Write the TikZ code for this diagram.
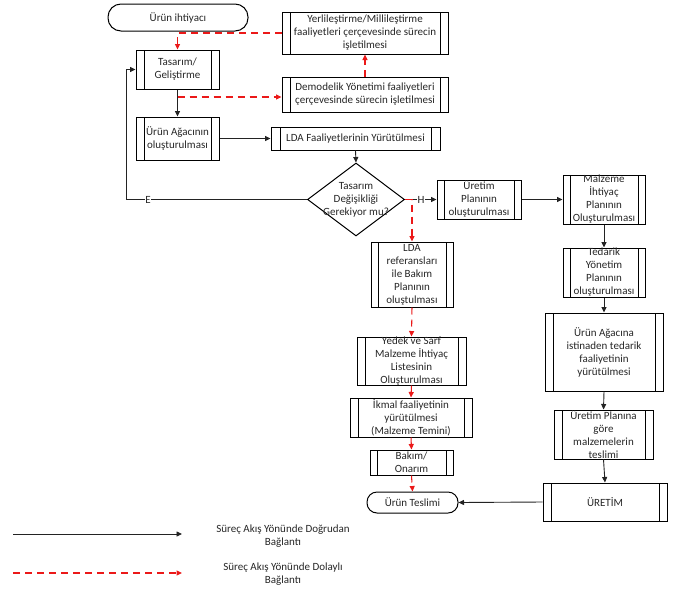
\documentclass[tikz,border=0pt]{standalone}
\usepackage{fontspec}
\setmainfont{Carlito}
\usetikzlibrary{arrows.meta,shapes.geometric}
\definecolor{lnred}{RGB}{235,25,25}
\definecolor{lngray}{RGB}{35,35,35}
\begin{document}
\begin{tikzpicture}[x=1pt,y=-1pt,
  every node/.style={font=\fontsize{11}{13}\selectfont, text=black!85},
  proc/.style={draw, line width=1pt, inner sep=0pt,
    path picture={\draw[line width=1pt]
      ([xshift=#1]path picture bounding box.north west) -- ([xshift=#1]path picture bounding box.south west)
      ([xshift=-#1]path picture bounding box.north east) -- ([xshift=-#1]path picture bounding box.south east);}},
  proc/.default=8pt,
  term/.style={draw, line width=1pt, inner sep=0pt, rounded corners=#1},
  txt/.style={align=center, inner sep=0pt},
  arr/.style={draw=lngray, line width=0.9pt, -{Triangle[length=5.5pt,width=5pt]}},
  redarr/.style={draw=lnred, line width=1.05pt, dash pattern=on 7pt off 5pt, -{Triangle[length=5.5pt,width=5pt]}},
  lbl/.style={fill=white, inner sep=0.6pt}
]
\useasboundingbox (0,0) rectangle (679,600);

% boxes
\node[term=13pt, minimum width=140pt, minimum height=27pt] (start) at (178,17.5) {};
\node[txt] (start-t) at (start.center) {Ürün ihtiyacı};

\node[proc, minimum width=83pt, minimum height=39pt] (tas) at (177.5,69.5) {};
\node[txt] (tas-t) at (tas.center) {Tasarım/\\Geliştirme};

\node[proc, minimum width=166pt, minimum height=42pt] (yer) at (365,33) {};
\node[txt] (yer-t) at (yer.center) {Yerlileştirme/Millileştirme\\faaliyetleri çerçevesinde sürecin\\işletilmesi};

\node[proc, minimum width=166pt, minimum height=35pt] (demo) at (365,94.5) {};
\node[txt] (demo-t) at (demo.center) {Demodelik Yönetimi faaliyetleri\\çerçevesinde sürecin işletilmesi};

\node[proc, minimum width=83pt, minimum height=43pt] (agac) at (177.5,138.5) {};
\node[txt] (agac-t) at (agac.center) {Ürün Ağacının\\oluşturulması};

\node[proc=9pt, minimum width=169pt, minimum height=23pt] (lda) at (355.5,138.5) {};
\node[txt] (lda-t) at (lda.center) {LDA Faaliyetlerinin Yürütülmesi};

\node[draw, diamond, line width=1pt, inner sep=0pt, minimum width=97pt, minimum height=73pt, shape aspect=1.33] (dia) at (356,199.5) {};
\node[txt] (dia-t) at (dia.center) {Tasarım\\Değişikliği\\Gerekiyor mu?};

\node[proc=7pt, minimum width=84pt, minimum height=39pt] (upl) at (479,199.5) {};
\node[txt] (upl-t) at (upl.center) {Üretim\\Planının\\oluşturulması};

\node[proc=7pt, minimum width=82pt, minimum height=49pt] (malz) at (604,199.5) {};
\node[txt] (malz-t) at (malz.center) {Malzeme\\İhtiyaç\\Planının\\Oluşturulması};

\node[proc=7pt, minimum width=82pt, minimum height=49pt] (ted) at (604,272.5) {};
\node[txt] (ted-t) at (ted.center) {Tedarik\\Yönetim\\Planının\\oluşturulması};

\node[proc, minimum width=118pt, minimum height=78pt] (agacna) at (604,352) {};
\node[txt] (agacna-t) at (agacna.center) {Ürün Ağacına\\istinaden tedarik\\faaliyetinin\\yürütülmesi};

\node[proc, minimum width=99pt, minimum height=49pt] (upn) at (603.5,434.5) {};
\node[txt] (upn-t) at (upn.center) {Üretim Planına\\göre\\malzemelerin\\teslimi};

\node[proc, minimum width=124pt, minimum height=38pt] (uret) at (605,502) {};
\node[txt] (uret-t) at (uret.center) {ÜRETİM};

\node[proc=7pt, minimum width=82pt, minimum height=65pt] (ldaref) at (412,274.5) {};
\node[txt] (ldaref-t) at (ldaref.center) {LDA\\referansları\\ile Bakım\\Planının\\oluştulması};

\node[proc, minimum width=109pt, minimum height=48pt] (yedek) at (411.5,361) {};
\node[txt] (yedek-t) at (yedek.center) {Yedek ve Sarf\\Malzeme İhtiyaç\\Listesinin\\Oluşturulması};

\node[proc, minimum width=122pt, minimum height=39pt] (ikmal) at (411,417.5) {};
\node[txt] (ikmal-t) at (ikmal.center) {İkmal faaliyetinin\\yürütülmesi\\(Malzeme Temini)};

\node[proc=7pt, minimum width=83pt, minimum height=25pt] (bakim) at (411.5,462.5) {};
\node[txt] (bakim-t) at (bakim.center) {Bakım/\\Onarım};

\node[term=10pt, minimum width=91pt, minimum height=21pt] (tesl) at (412.5,502.5) {};
\node[txt] (tesl-t) at (tesl.center) {Ürün Teslimi};

% connectors
\draw[redarr] (yer.west) -| (tas.north);
\draw[redarr] (demo.north) -- (yer.south);
\draw[arr] (tas.south) -- (agac.north);
\coordinate (c1) at (177.5,97);
\draw[redarr] (c1) -- (c1 -| demo.west);
\draw[arr] (agac.east) -- (lda.west);
\draw[arr] (lda.south) -- (dia.north);
\coordinate (ecorner) at (126,199.5);
\draw[arr] (dia.west) -- (ecorner) |- (tas.west);
\node[lbl] (elbl) at (148,199.5) {E};
\draw[arr] (dia.east) -- (upl.west);
\node[lbl] (hlbl) at (421,199.5) {H};
\coordinate (hsplit) at (412,199.5);
\draw[redarr] (dia.east) -- (hsplit) -- (ldaref.north);
\draw[arr] (upl.east) -- (malz.west);
\draw[arr] (malz.south) -- (ted.north);
\draw[arr] (ted.south) -- (agacna.north);
\draw[arr] (agacna.south) -- (upn.north);
\draw[arr] (upn.south) -- (uret.north);
\draw[arr] (uret.west) -- (tesl.east);
\draw[redarr] (ldaref.south) -- (yedek.north);
\draw[redarr] (yedek.south) -- (ikmal.north);
\draw[redarr] (ikmal.south) -- (bakim.north);
\draw[redarr] (bakim.south) -- (tesl.north);

% legend
\coordinate (la1) at (13,534);
\coordinate (la2) at (182,534);
\draw[arr] (la1) -- (la2);
\node[txt] (leg1) at (283,536) {Süreç Akış Yönünde Doğrudan\\Bağlantı};
\coordinate (lb1) at (13,573);
\coordinate (lb2) at (182,573);
\draw[redarr] (lb1) -- (lb2);
\node[txt] (leg2) at (283,574) {Süreç Akış Yönünde Dolaylı\\Bağlantı};
\end{tikzpicture}
\end{document}
